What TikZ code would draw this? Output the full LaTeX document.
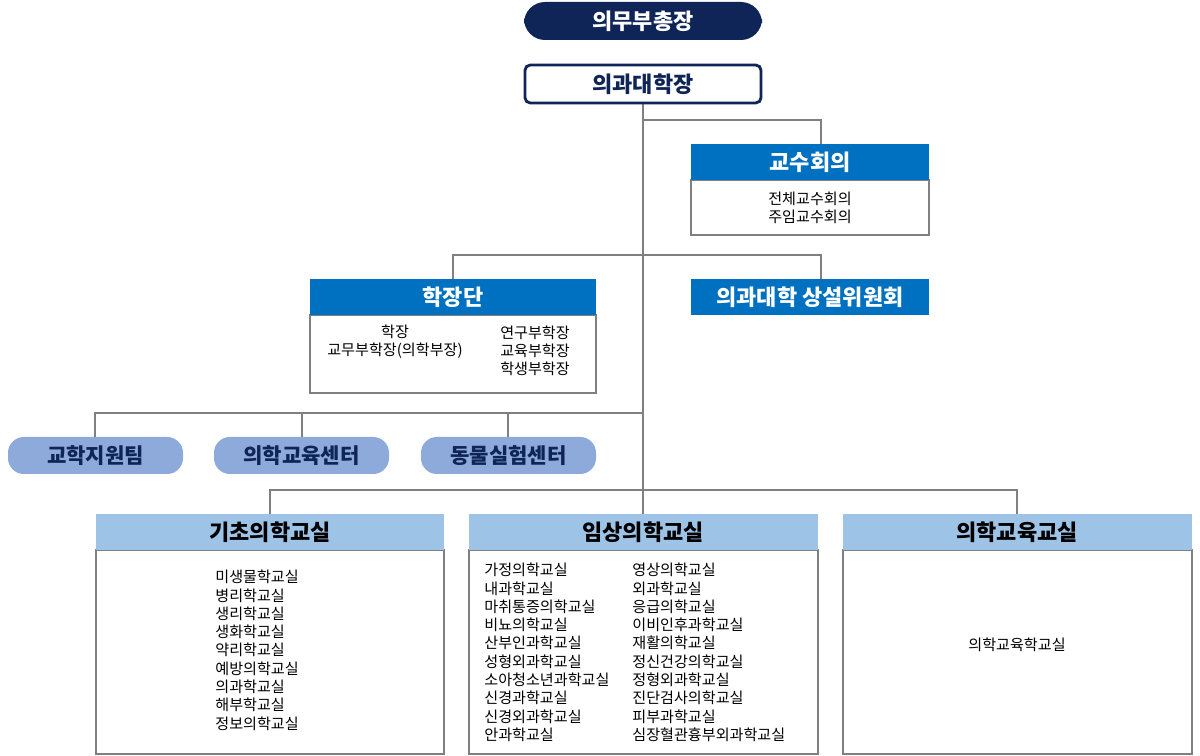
\documentclass[tikz,border=0pt]{standalone}
\usepackage{fontspec}
\setmainfont{Noto Sans CJK KR}
\newfontfamily\kb{Noto Sans CJK KR Bold}
\definecolor{navy}{HTML}{0F2557}
\definecolor{hblue}{HTML}{0070C0}
\definecolor{pill}{HTML}{8EAADB}
\definecolor{lhead}{HTML}{9DC3E6}
\definecolor{gline}{HTML}{808080}
\begin{document}
\begin{tikzpicture}[x=0.02cm,y=-0.02cm,
  ln/.style={draw=gline,line width=0.6pt},
  hd/.style={fill=hblue,text=white,font=\bfseries\fontsize{12.5}{14}\selectfont},
  lh/.style={fill=lhead,text=black,font=\bfseries\fontsize{12.5}{14}\selectfont},
  bd/.style={draw=gline,line width=0.6pt,fill=white},
  tx/.style={font=\fontsize{8.6}{10.4}\selectfont,align=left,inner sep=0},
  pl/.style={fill=pill,text=navy,rounded corners=9pt,font=\bfseries\fontsize{12}{14}\selectfont}]
\useasboundingbox (0,0) rectangle (1200,756);
% connectors
\coordinate (t0) at (643,104); \coordinate (t1) at (643,490);
\draw[ln] (t0) -- (t1);
\draw[ln] (643,120) -- (821,120) -- (821,144);
\draw[ln] (453,279) -- (453,255) -- (821,255) -- (821,279);
\draw[ln] (95,437) -- (95,413) -- (643,413);
\draw[ln] (302,413) -- (302,437);
\draw[ln] (508,413) -- (508,437);
\draw[ln] (270,514) -- (270,490) -- (1017,490) -- (1017,514);
\draw[ln] (643,490) -- (643,514);
% top
\node[fill=navy,rounded corners=12pt,text=white,font=\bfseries\fontsize{12.5}{14}\selectfont,minimum width=238*0.02cm,minimum height=38*0.02cm] (vp) at (643,21) {의무부총장};
\node[draw=navy,line width=1.6pt,rounded corners=3pt,fill=white,text=navy,font=\bfseries\fontsize{12.5}{14}\selectfont,minimum width=236*0.02cm,minimum height=38*0.02cm] (dean) at (643,84) {의과대학장};
% 교수회의
\path[bd] (691,180) rectangle (929,235);
\path[hd] (691,144) rectangle (929,180);
\node[hd,fill=none] (kh) at (810,162) {교수회의};
\node[tx,align=center] (kb) at (810,207.5) {전체교수회의\\주임교수회의};
% 학장단
\path[bd] (310,315) rectangle (596,393);
\path[hd] (310,279) rectangle (596,315);
\node[hd,fill=none] (hh) at (453,297) {학장단};
\node[tx,align=center] (hl) at (395,342) {학장\\교무부학장(의학부장)};
\node[tx] (hr) at (535,351) {연구부학장\\교육부학장\\학생부학장};
\path[hd] (691,279) rectangle (929,315);
\node[hd,fill=none] (cm) at (810,297) {의과대학 상설위원회};
% pills
\node[pl,minimum width=175*0.02cm,minimum height=37*0.02cm] (p1) at (95.5,455.5) {교학지원팀};
\node[pl,minimum width=175*0.02cm,minimum height=37*0.02cm] (p2) at (301.5,455.5) {의학교육센터};
\node[pl,minimum width=175*0.02cm,minimum height=37*0.02cm] (p3) at (508.5,455.5) {동물실험센터};
% bottom boxes
\path[bd] (96,550) rectangle (444,754);
\path[lh] (96,514) rectangle (444,550);
\node[lh,fill=none] (b1) at (270,532) {기초의학교실};
\path[bd] (469,550) rectangle (818,754);
\path[lh] (469,514) rectangle (818,550);
\node[lh,fill=none] (b2) at (643,532) {임상의학교실};
\path[bd] (843,550) rectangle (1192,754);
\path[lh] (843,514) rectangle (1192,550);
\node[lh,fill=none] (b3) at (1017,532) {의학교육교실};
\node[tx,anchor=north west] (l1) at (215,570) {미생물학교실\\병리학교실\\생리학교실\\생화학교실\\약리학교실\\예방의학교실\\의과학교실\\해부학교실\\정보의학교실};
\node[tx,anchor=north west] (l2) at (484,563) {가정의학교실\\내과학교실\\마취통증의학교실\\비뇨의학교실\\산부인과학교실\\성형외과학교실\\소아청소년과학교실\\신경과학교실\\신경외과학교실\\안과학교실};
\node[tx,anchor=north west] (l3) at (632,563) {영상의학교실\\외과학교실\\응급의학교실\\이비인후과학교실\\재활의학교실\\정신건강의학교실\\정형외과학교실\\진단검사의학교실\\피부과학교실\\심장혈관흉부외과학교실};
\node[tx] (l4) at (1017,645) {의학교육학교실};
\end{tikzpicture}
\end{document}
